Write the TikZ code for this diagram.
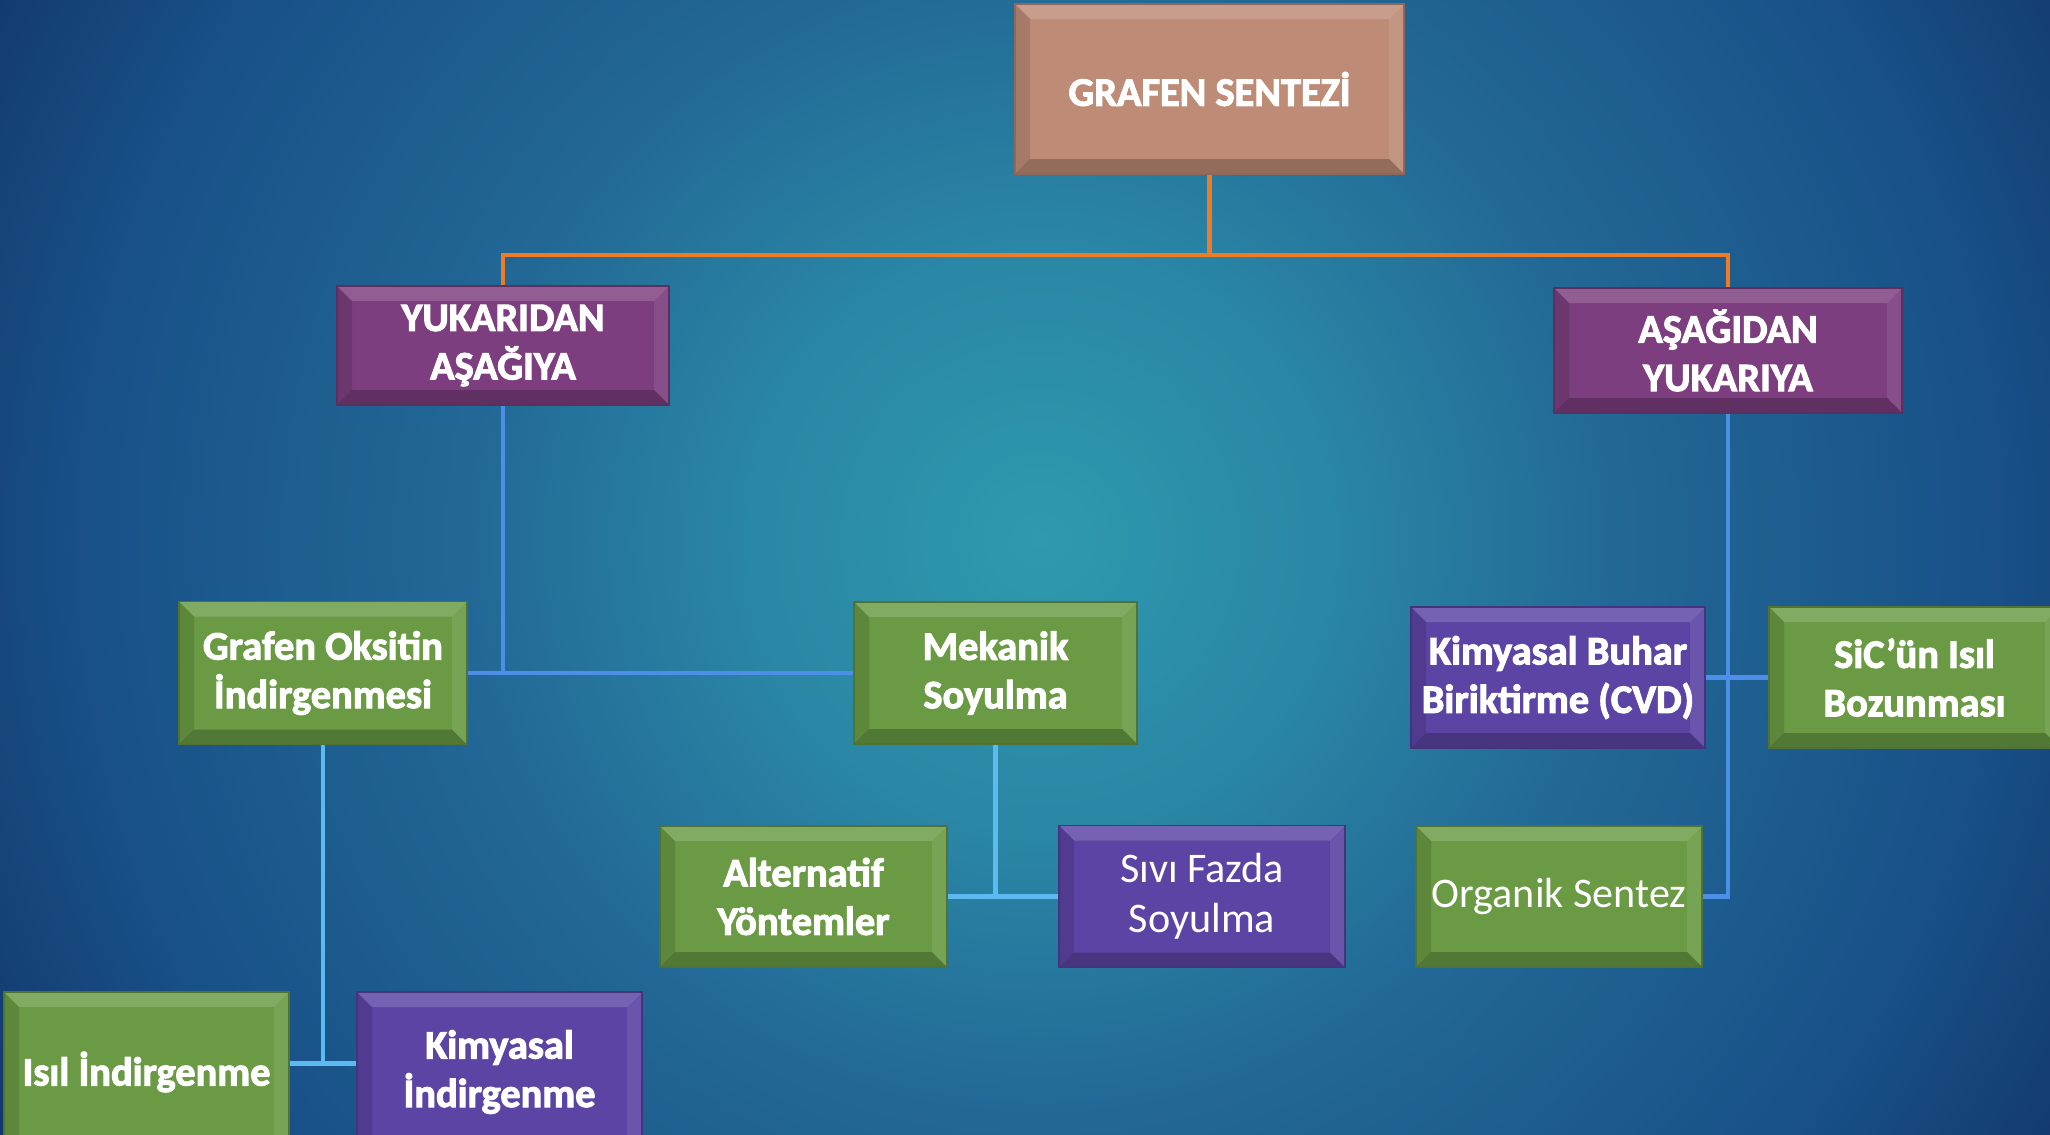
\documentclass[tikz,border=0pt]{standalone}
\usepackage{fontspec}
\setmainfont{Carlito}[BoldFeatures={FakeBold=2.5}]
\usepackage{xcolor}
\usepackage{tikz}
\usetikzlibrary{calc}
\definecolor{bgnavy}{RGB}{18, 56, 110}
\definecolor{bgdeep}{RGB}{24, 80, 135}
\definecolor{bgmid}{RGB}{34, 104, 150}
\definecolor{bgsea}{RGB}{42, 135, 165}
\definecolor{bgteal}{RGB}{47, 153, 175}
\definecolor{clay}{RGB}{190, 139, 119}
\definecolor{plum}{RGB}{124, 62, 126}
\definecolor{indigo}{RGB}{92, 68, 164}
\definecolor{leaf}{RGB}{106, 154, 68}
\definecolor{linkorange}{RGB}{238, 124, 36}
\definecolor{linkblue}{RGB}{77, 143, 232}
\definecolor{linksky}{RGB}{92, 186, 240}
\pgfdeclareradialshading{bgglow}{\pgfpoint{0bp}{0bp}}{color(0bp)=(bgteal); color(6bp)=(bgsea); color(12bp)=(bgmid); color(20bp)=(bgdeep); color(25bp)=(bgnavy); color(50bp)=(bgnavy)}
\newcommand{\bevw}{0.15}
\tikzset{
  card/.style={rectangle, inner sep=0pt, align=center, text=white,
    font=\fontsize{11.5}{13.8}\selectfont\bfseries,
    fill=#1, draw=#1!75!black, line width=0.5pt,
    path picture={
      \coordinate (bnw) at (path picture bounding box.north west);
      \coordinate (bne) at (path picture bounding box.north east);
      \coordinate (bse) at (path picture bounding box.south east);
      \coordinate (bsw) at (path picture bounding box.south west);
      \fill[white,opacity=.16] (bnw) -- (bne) -- ($(bne)+(-\bevw,-\bevw)$) -- ($(bnw)+(\bevw,-\bevw)$) -- cycle;
      \fill[white,opacity=.09] (bne) -- (bse) -- ($(bse)+(-\bevw,\bevw)$) -- ($(bne)+(-\bevw,-\bevw)$) -- cycle;
      \fill[black,opacity=.22] (bse) -- (bsw) -- ($(bsw)+(\bevw,\bevw)$) -- ($(bse)+(-\bevw,\bevw)$) -- cycle;
      \fill[black,opacity=.12] (bsw) -- (bnw) -- ($(bnw)+(\bevw,-\bevw)$) -- ($(bsw)+(\bevw,\bevw)$) -- cycle;
    }},
  lighttext/.style={font=\fontsize{12}{14.2}\selectfont},
  orangelink/.style={draw=linkorange, line width=1.2pt},
  bluelink/.style={draw=linkblue, line width=1.2pt},
  skylink/.style={draw=linksky, line width=1.2pt},
}

\begin{document}
\begin{tikzpicture}
\useasboundingbox (0,0) rectangle (20.5,-11.34);
\begin{scope}
  \clip (0,0) rectangle (20.5,-11.34);
  \shade[shading=bgglow] (10.4,-5.4) circle (12);
\end{scope}

% top level
\node[card=clay, minimum width=3.89cm, minimum height=1.70cm] (synth) at (12.095,-0.89) {GRAFEN SENTEZİ};
\node[card=plum, minimum width=3.32cm, minimum height=1.19cm] (topdown) at (5.03,-3.455) {YUKARIDAN\\AŞAĞIYA};
\node[card=plum, minimum width=3.48cm, minimum height=1.25cm] (bottomup) at (17.28,-3.505) {AŞAĞIDAN\\YUKARIYA};

% top-down methods
\node[card=leaf, minimum width=2.88cm, minimum height=1.43cm] (goxide) at (3.23,-6.73) {Grafen Oksitin\\İndirgenmesi};
\node[card=leaf, minimum width=2.83cm, minimum height=1.42cm] (mechex) at (9.955,-6.73) {Mekanik\\Soyulma};
\node[card=leaf, minimum width=2.87cm, minimum height=1.41cm] (altmeth) at (8.035,-8.965) {Alternatif\\Yöntemler};
\node[card=indigo, lighttext, minimum width=2.86cm, minimum height=1.42cm] (liqex) at (12.02,-8.965) {Sıvı Fazda\\Soyulma};
\node[card=leaf, minimum width=2.85cm, minimum height=1.60cm] (thermred) at (1.465,-10.72) {Isıl İndirgenme};
\node[card=indigo, minimum width=2.85cm, minimum height=1.60cm] (chemred) at (4.995,-10.72) {Kimyasal\\İndirgenme};

% bottom-up methods
\node[card=indigo, minimum width=2.94cm, minimum height=1.41cm] (cvd) at (15.58,-6.775) {Kimyasal Buhar\\Biriktirme (CVD)};
\node[card=leaf, minimum width=2.91cm, minimum height=1.41cm] (sicdec) at (19.145,-6.775) {SiC’ün Isıl\\Bozunması};
\node[card=leaf, lighttext, minimum width=2.86cm, minimum height=1.41cm] (orgsyn) at (15.59,-8.965) {Organik Sentez};

% connectors
\draw[orangelink] (synth.south) -- ++(0,-0.80) -| (topdown.north);
\draw[orangelink] (synth.south) -- ++(0,-0.80) -| (bottomup.north);
\draw[bluelink] (topdown.south) |- (goxide.east);
\draw[bluelink] (topdown.south) |- (mechex.west);
\draw[bluelink] (bottomup.south) |- (orgsyn.east);
\draw[bluelink] (cvd.east) -- (sicdec.west);
\draw[skylink] (mechex.south) |- (altmeth.east);
\draw[skylink] (mechex.south) |- (liqex.west);
\draw[skylink] (goxide.south) -- ++(0,-3.18) coordinate (gjoin);
\draw[skylink] (gjoin -| thermred.east) -- (gjoin -| chemred.west);
\end{tikzpicture}
\end{document}
